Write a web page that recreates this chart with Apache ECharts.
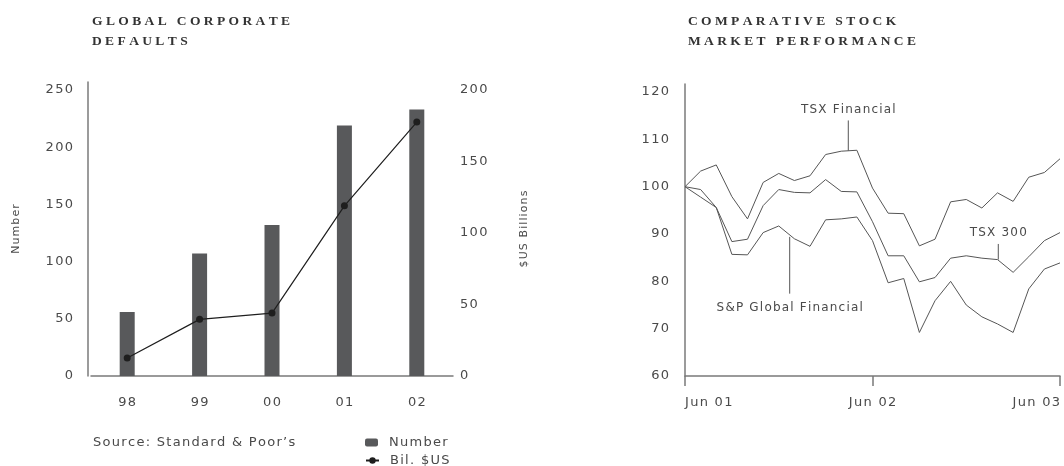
<!DOCTYPE html>
<html>
<head>
<meta charset="utf-8">
<script src="https://cdn.jsdelivr.net/npm/echarts@6/dist/echarts.min.js"></script>
<style>
  html, body { margin: 0; padding: 0; background: #fff; }
  #main { width: 1064px; height: 466px; }
</style>
</head>
<body>
<div id="main"></div>
<script>
// --- left chart: global corporate defaults
var years = ['98', '99', '00', '01', '02'];
var defaultsNumber = [56, 107, 132, 219, 233];
var defaultsBillions = [12.6, 39.6, 44, 119, 177.6];

// --- right chart: comparative stock market performance (monthly, Jun 01 - Jun 03)
var monthTicks = ['Jun 01', 'Jun 02', 'Jun 03'];
var tsxFinancial = [100, 103.3, 104.6, 97.9, 93.2, 100.9, 102.8, 101.3, 102.3, 106.8, 107.5, 107.7,
  99.7, 94.4, 94.3, 87.5, 88.9, 96.8, 97.3, 95.5, 98.7, 96.9, 102.0, 103.0, 105.9];
var tsx300 = [100, 99.4, 95.6, 88.4, 88.9, 96.0, 99.4, 98.8, 98.7, 101.5, 99.0, 98.9,
  92.6, 85.4, 85.4, 79.9, 80.8, 84.9, 85.4, 84.9, 84.6, 81.9, 85.2, 88.6, 90.3];
var spGlobalFinancial = [100, 97.8, 95.6, 85.7, 85.6, 90.3, 91.7, 89.0, 87.4, 93.0, 93.2, 93.6,
  88.6, 79.7, 80.6, 69.2, 75.9, 80.0, 75.0, 72.5, 71.0, 69.2, 78.4, 82.6, 83.9];

var sans = 'DejaVu Sans';
var labelColor = '#4a4a4a';
var axisColor = '#7a7a7a';

// wide tracking for the serif titles
function spaced(s) {
  return s.split('').join(' ');
}
// light tracking for the sans labels (hair space)
function track(s) {
  return String(s).split('').join('\u200A');
}
function pairs(arr) {
  return arr.map(function (v, i) { return [i, v]; });
}

var chart = echarts.init(document.getElementById('main'));

var titleStyle = { fontFamily: 'Liberation Serif', fontWeight: 'bold', fontSize: 13.5, color: '#333', lineHeight: 20 };
var tickLabel = { fontFamily: sans, fontSize: 13, color: labelColor, formatter: track };
var legendText = { fontFamily: sans, fontSize: 13, color: labelColor, padding: [0, 0, 0, 6] };

var option = {
  animation: false,
  title: [
    { text: spaced('GLOBAL CORPORATE') + '\n' + spaced('DEFAULTS'), left: 87, top: 7, textStyle: titleStyle },
    { text: spaced('COMPARATIVE STOCK') + '\n' + spaced('MARKET PERFORMANCE'), left: 683, top: 7, textStyle: titleStyle }
  ],
  legend: [
    {
      data: ['Number'], left: 360, top: 431,
      itemWidth: 13, itemHeight: 8, selectedMode: false,
      formatter: track, textStyle: legendText
    },
    {
      data: ['Bil. $US'], left: 360, top: 449,
      itemWidth: 13, itemHeight: 8, selectedMode: false,
      formatter: track, textStyle: legendText
    }
  ],
  grid: [
    { left: 91, top: 82, width: 362, height: 294 },
    { left: 685, top: 84, width: 375, height: 292 }
  ],
  xAxis: [
    {
      type: 'category', gridIndex: 0, data: years,
      axisLine: { lineStyle: { color: axisColor, width: 1.5 } },
      axisTick: { show: false },
      axisLabel: Object.assign({}, tickLabel, { margin: 20 })
    },
    {
      type: 'value', gridIndex: 1, min: 0, max: 24, interval: 12,
      splitLine: { show: false },
      axisLine: { lineStyle: { color: axisColor, width: 1.5 } },
      axisTick: { show: true, length: 10, lineStyle: { color: axisColor, width: 1.5 } },
      axisLabel: Object.assign({}, tickLabel, {
        margin: 20, alignMinLabel: 'left', alignMaxLabel: 'right',
        formatter: function (v) { return track(monthTicks[Math.round(v / 12)] || ''); }
      })
    }
  ],
  yAxis: [
    {
      type: 'value', gridIndex: 0, min: 0, max: 257, interval: 50, offset: 3,
      name: track('Number'), nameLocation: 'middle', nameRotate: 90, nameGap: 66,
      nameTextStyle: { fontFamily: sans, fontSize: 11, color: labelColor },
      splitLine: { show: false },
      axisLine: { show: true, lineStyle: { color: axisColor, width: 1.5 } },
      axisTick: { show: false },
      axisLabel: Object.assign({}, tickLabel, { margin: 15, showMaxLabel: false })
    },
    {
      type: 'value', gridIndex: 0, position: 'right', min: 0, max: 205.6, interval: 50,
      name: track('$US Billions'), nameLocation: 'middle', nameRotate: 90, nameGap: 66,
      nameTextStyle: { fontFamily: sans, fontSize: 11, color: labelColor },
      splitLine: { show: false },
      axisLine: { show: false },
      axisTick: { show: false },
      axisLabel: Object.assign({}, tickLabel, { margin: 7, showMaxLabel: false })
    },
    {
      type: 'value', gridIndex: 1, min: 60, max: 121.7, interval: 10,
      splitLine: { show: false },
      axisLine: { show: true, lineStyle: { color: axisColor, width: 1.5 } },
      axisTick: { show: false },
      axisLabel: Object.assign({}, tickLabel, { margin: 16, showMaxLabel: false })
    }
  ],
  series: [
    {
      name: 'Number', type: 'bar', xAxisIndex: 0, yAxisIndex: 0,
      data: defaultsNumber, barWidth: 15,
      itemStyle: { color: '#58595b' }
    },
    {
      name: 'Bil. $US', type: 'line', xAxisIndex: 0, yAxisIndex: 1,
      data: defaultsBillions, symbol: 'circle', symbolSize: 7,
      lineStyle: { color: '#1e1e1e', width: 1.2 },
      itemStyle: { color: '#1e1e1e' }
    },
    {
      name: 'TSX Financial', type: 'line', xAxisIndex: 1, yAxisIndex: 2,
      data: pairs(tsxFinancial), showSymbol: false,
      lineStyle: { color: '#555', width: 1 }
    },
    {
      name: 'TSX 300', type: 'line', xAxisIndex: 1, yAxisIndex: 2,
      data: pairs(tsx300), showSymbol: false,
      lineStyle: { color: '#555', width: 1 }
    },
    {
      name: 'S&P Global Financial', type: 'line', xAxisIndex: 1, yAxisIndex: 2,
      data: pairs(spGlobalFinancial), showSymbol: false,
      lineStyle: { color: '#555', width: 1 }
    }
  ]
};
chart.setOption(option);

// callouts on the right chart, placed with the chart's own scale
// x = month index; from/to = leader line ends; label = text centre (index values)
var callouts = [
  { text: 'TSX Financial', x: 10.45, from: 107.6, to: 114.0, label: 116.3 },
  { text: 'TSX 300', x: 20.05, from: 84.6, to: 87.9, label: 90.3 },
  { text: 'S&P Global Financial', x: 6.7, from: 89.4, to: 77.4, label: 74.4 }
];
var graphics = [];
callouts.forEach(function (c) {
  var p1 = chart.convertToPixel({ gridIndex: 1 }, [c.x, c.from]);
  var p2 = chart.convertToPixel({ gridIndex: 1 }, [c.x, c.to]);
  var pt = chart.convertToPixel({ gridIndex: 1 }, [c.x, c.label]);
  graphics.push({
    type: 'line', silent: true,
    shape: { x1: p1[0], y1: p1[1], x2: p2[0], y2: p2[1] },
    style: { stroke: '#555', lineWidth: 1 }
  });
  graphics.push({
    type: 'text', silent: true, x: pt[0], y: pt[1],
    style: { text: track(c.text), fontFamily: sans, fontSize: 12, fill: labelColor, align: 'center', verticalAlign: 'middle' }
  });
});
graphics.push({
  type: 'text', silent: true, left: 93, top: 436,
  style: { text: track('Source: Standard & Poor\u2019s'), fontFamily: sans, fontSize: 13, fill: labelColor }
});
chart.setOption({ graphic: graphics });
</script>
</body>
</html>
